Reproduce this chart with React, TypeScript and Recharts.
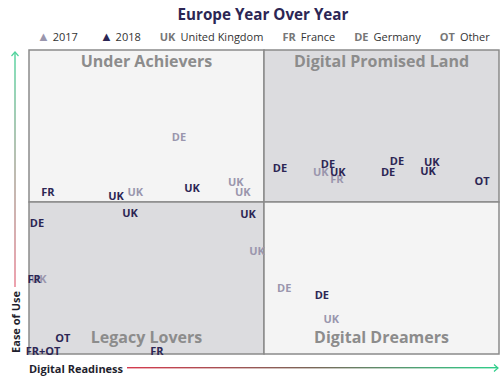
import React from "react";
import { ScatterChart, Scatter, XAxis, YAxis, ReferenceArea, Customized } from "recharts";

const FONT = "'Open Sans', 'Noto Sans', sans-serif";
const DARK = "#2c2654";
const LIGHT = "#9a96ad";
const QUAD_TEXT = "#8c8c8c";

// 2017 markets (light labels)
const codes2017 = ["DE", "UK", "UK", "UK", "UK", "FR", "UK", "UK", "DE", "UK"];
const readiness2017 = [31.9, 22.6, 44.0, 45.5, 62.1, 65.5, 48.5, 2.1, 54.3, 64.3];
const ease2017 = [71.4, 53.6, 56.6, 53.6, 59.9, 57.6, 34.2, 24.7, 22.0, 11.8];

// 2018 markets (dark labels)
const codes2018 = [
  "FR", "UK", "UK", "DE", "DE", "UK", "DE", "DE", "UK", "UK",
  "OT", "UK", "UK", "DE", "FR", "OT", "FR+OT", "FR", "DE",
];
const readiness2018 = [
  4.0, 18.5, 34.7, 53.4, 63.6, 65.7, 78.3, 76.4, 85.7, 84.9,
  96.4, 21.5, 46.6, 1.7, 1.1, 7.2, 3.0, 27.2, 62.3,
];
const ease2018 = [
  53.6, 52.3, 54.9, 61.5, 62.8, 59.9, 63.8, 59.9, 63.2, 60.5,
  57.2, 46.7, 46.1, 43.4, 24.7, 5.3, 1.3, 1.0, 19.7,
];

const legendCodes = ["UK", "FR", "DE", "OT"];
const legendNames = ["United Kingdom", "France", "Germany", "Other"];

const quadrants = [
  { name: "Under Achievers", x1: 0, x2: 50, y1: 50, y2: 100, fill: "#f4f4f4", pos: "insideTop" },
  { name: "Digital Promised Land", x1: 50, x2: 100, y1: 50, y2: 100, fill: "#dcdcdf", pos: "insideTop" },
  { name: "Legacy Lovers", x1: 0, x2: 50, y1: 0, y2: 50, fill: "#dcdcdf", pos: "insideBottom" },
  { name: "Digital Dreamers", x1: 50, x2: 100, y1: 0, y2: 50, fill: "#f4f4f4", pos: "insideBottom" },
];

const toRows = (codes: string[], xs: number[], ys: number[]) =>
  codes.map((code, i) => ({ code, x: xs[i], y: ys[i] }));

const data2017 = toRows(codes2017, readiness2017, ease2017);
const data2018 = toRows(codes2018, readiness2018, ease2018);

const labelShape = (color: string) => (props: any) => (
  <text
    x={props.cx}
    y={props.cy}
    textAnchor="middle"
    dominantBaseline="central"
    fill={color}
    fontSize={11}
    fontWeight={700}
    fontFamily={FONT}
  >
    {props.payload.code}
  </text>
);

function AxisArrows() {
  return (
    <g>
      <defs>
        <linearGradient id="xGrad" x1="0" y1="0" x2="1" y2="0">
          <stop offset="0%" stopColor="#d63a4e" />
          <stop offset="50%" stopColor="#7a6658" />
          <stop offset="100%" stopColor="#2fcf8a" />
        </linearGradient>
        <linearGradient id="yGrad" x1="0" y1="1" x2="0" y2="0">
          <stop offset="0%" stopColor="#e67a8c" />
          <stop offset="50%" stopColor="#a0a090" />
          <stop offset="100%" stopColor="#4fd39c" />
        </linearGradient>
      </defs>
      <rect x={127} y={367} width={371} height={1.4} fill="url(#xGrad)" />
      <path d="M494,364.5 L498,368 L494,371.5" stroke="#2fcf8a" strokeWidth={1.2} fill="none" />
      <rect x={14.3} y={52} width={1.4} height={235} fill="url(#yGrad)" />
      <path d="M11.5,56 L15,52 L18.5,56" stroke="#4fd39c" strokeWidth={1.2} fill="none" />
      <text
        x={76}
        y={368}
        textAnchor="middle"
        dominantBaseline="central"
        fontSize={11}
        fontWeight={700}
        fill="#1f1f2e"
        fontFamily={FONT}
      >
        Digital Readiness
      </text>
      <text
        x={15}
        y={322}
        textAnchor="middle"
        dominantBaseline="central"
        fontSize={11}
        fontWeight={700}
        fill="#1f1f2e"
        fontFamily={FONT}
        transform="rotate(-90 15 322)"
      >
        Ease of Use
      </text>
    </g>
  );
}

export default function App() {
  return (
    <div style={{ position: "absolute", left: 0, top: 0, width: 504, height: 376, fontFamily: FONT, background: "#fff" }}>
      <div
        style={{
          position: "absolute",
          top: 4,
          left: 0,
          width: 526,
          textAlign: "center",
          fontSize: 15.2,
          fontWeight: 700,
          color: DARK,
          lineHeight: "20px",
        }}
      >
        Europe Year Over Year
      </div>
      <div
        style={{
          position: "absolute",
          top: 28,
          left: 37,
          display: "flex",
          alignItems: "center",
          fontSize: 11,
          lineHeight: "16px",
          color: "#333",
          whiteSpace: "nowrap",
        }}
      >
        <span style={{ marginRight: 22 }}>
          <span style={{ color: LIGHT, fontSize: 13 }}>▲</span> 2017
        </span>
        <span style={{ marginRight: 19 }}>
          <span style={{ color: DARK, fontSize: 13 }}>▲</span> 2018
        </span>
        {legendCodes.map((c, i) => (
          <span key={c} style={{ marginRight: 19 }}>
            <span style={{ color: "#777", fontWeight: 700, marginRight: 5 }}>{c}</span>
            {legendNames[i]}
          </span>
        ))}
      </div>
      <ScatterChart
        width={504}
        height={376}
        margin={{ top: 50, right: 5, bottom: 22, left: 29 }}
        style={{ position: "absolute", left: 0, top: 0 }}
      >
        <XAxis type="number" dataKey="x" domain={[0, 100]} hide />
        <YAxis type="number" dataKey="y" domain={[0, 100]} hide />
        {quadrants.map((q) => (
          <ReferenceArea
            key={q.name}
            x1={q.x1}
            x2={q.x2}
            y1={q.y1}
            y2={q.y2}
            fill={q.fill}
            fillOpacity={1}
            stroke="#8a8a8a"
            strokeWidth={1.5}
            label={{
              value: q.name,
              position: q.pos as any,
              offset: q.pos === "insideTop" ? 6 : 11,
              fill: QUAD_TEXT,
              fontSize: 16,
              fontWeight: 700,
              fontFamily: FONT,
            }}
          />
        ))}
        <Scatter data={data2017} shape={labelShape(LIGHT)} isAnimationActive={false} />
        <Scatter data={data2018} shape={labelShape(DARK)} isAnimationActive={false} />
        <Customized component={AxisArrows} />
      </ScatterChart>
    </div>
  );
}
